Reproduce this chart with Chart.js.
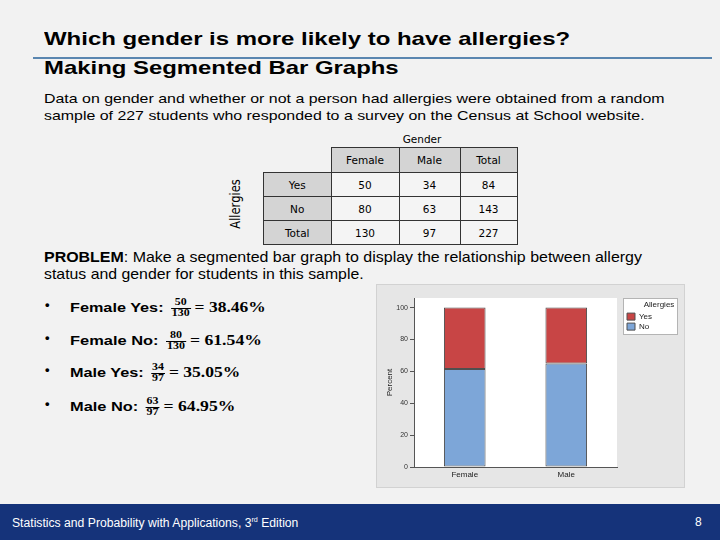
<!DOCTYPE html>
<html><head><meta charset="utf-8">
<script src="https://cdn.jsdelivr.net/npm/chart.js@4.4.1/dist/chart.umd.min.js"></script>
<style>
html,body{margin:0;padding:0;}
body{width:720px;height:540px;position:relative;overflow:hidden;background:#f2f2f2;font-family:"Liberation Sans",Arial,sans-serif;color:#000;}
.t{position:absolute;white-space:nowrap;line-height:1;transform-origin:0 0;}
.b{font-weight:bold;}
.rule{position:absolute;left:33px;top:57px;width:679px;height:2px;background:#5a86b0;}
.frac{display:inline-block;vertical-align:middle;text-align:center;font:bold 9.5px "Liberation Serif",serif;line-height:1.05;margin:0 3px 0 2px;}
.frac span{display:block;padding:0 1px;}
.frac span.n{border-bottom:1px solid #000;}
.m{font-family:"Liberation Serif",serif;font-weight:bold;}
#tbl{position:absolute;left:263px;top:147px;border-collapse:collapse;font-family:"DejaVu Sans",sans-serif;font-size:10.5px;}
#tbl td,#tbl th{border:1.5px solid #333;text-align:center;padding:0;font-weight:normal;}
#tbl th{background:#d4d4d4;}
#tbl td{background:#f4f4f4;}
#tbl td.e{border:none;background:transparent;}
.footer{position:absolute;left:0;top:504px;width:720px;height:36px;background:#15337a;}
#chartWrap{position:absolute;left:376px;top:284px;width:309px;height:204px;}
</style>
</head><body>
<div class="t b" data-x="44" data-b="45.5" data-fs="18.5" data-w="526">Which gender is more likely to have allergies?</div>
<div class="rule"></div>
<div class="t b" data-x="44" data-b="75" data-fs="18.5" data-w="354">Making Segmented Bar Graphs</div>
<div class="t" data-x="44" data-b="103.3" data-fs="13" data-w="621">Data on gender and whether or not a person had allergies were obtained from a random</div>
<div class="t" data-x="44" data-b="120.5" data-fs="13" data-w="601">sample of 227 students who responded to a survey on the Census at School website.</div>

<div class="t" data-x="422" data-b="142.5" data-fs="10.5" data-c="1" style="font-family:'DejaVu Sans',sans-serif;">Gender</div>
<div id="allergLbl" class="t" style="font-family:'DejaVu Sans',sans-serif;font-size:11.5px;left:236px;top:204px;transform:translate(-50%,-50%) scaleX(1.25) rotate(-90deg);transform-origin:50% 50%;">Allergies</div>
<table id="tbl"></table>

<div class="t" data-x="44" data-b="261.5" data-fs="15" data-w="598"><span class="b">PROBLEM</span>: Make a segmented bar graph to display the relationship between allergy</div>
<div class="t" data-x="44" data-b="278.5" data-fs="15" data-w="320">status and gender for students in this sample.</div>

<div id="bullets"></div>

<div class="footer"></div>
<div class="t" data-x="12" data-b="526.5" data-fs="12" data-w="286" style="color:#fff;">Statistics and Probability with Applications, 3<sup style="font-size:7px;vertical-align:5px;">rd</sup> Edition</div>
<div class="t" data-x="695" data-b="526.5" data-fs="12" style="color:#fff;">8</div>

<div id="chartWrap"><canvas id="c" width="309" height="204"></canvas></div>

<script>
// ---- data ----
const genders = ['Female', 'Male'];
const allergyRows = ['Yes', 'No'];
const yesCounts = [50, 34];
const noCounts = [80, 63];
const totalCounts = [130, 97];
const rowTotals = [84, 143, 227];
const yesPct = [38.46, 35.05];
const noPct = [61.54, 64.95];
const yTicks = [0, 20, 40, 60, 80, 100];
const yesPctText = ['38.46%', '35.05%'];
const noPctText = ['61.54%', '64.95%'];

// ---- table ----
(function(){
  const tbl = document.getElementById('tbl');
  const colW = [67, 67, 60, 56];
  const rowH = [25, 24, 24, 24];
  let html = '<tr style="height:'+rowH[0]+'px"><td class="e" style="width:'+colW[0]+'px"></td>';
  genders.concat(['Total']).forEach((g,i)=>{ html += '<th style="width:'+colW[i+1]+'px">'+g+'</th>'; });
  html += '</tr>';
  const rows = [
    ['Yes', yesCounts[0], yesCounts[1], rowTotals[0]],
    ['No', noCounts[0], noCounts[1], rowTotals[1]],
    ['Total', totalCounts[0], totalCounts[1], rowTotals[2]]
  ];
  rows.forEach((r,ri)=>{
    html += '<tr style="height:'+rowH[ri+1]+'px"><th>'+r[0]+'</th><td>'+r[1]+'</td><td>'+r[2]+'</td><td>'+r[3]+'</td></tr>';
  });
  tbl.innerHTML = html;
})();

// ---- bullets ----
(function(){
  const wrap = document.getElementById('bullets');
  const items = [
    ['Female Yes:', yesCounts[0], totalCounts[0], yesPctText[0], 309, 196],
    ['Female No:', noCounts[0], totalCounts[0], noPctText[0], 342, 192],
    ['Male Yes:', yesCounts[1], totalCounts[1], yesPctText[1], 374, 170],
    ['Male No:', noCounts[1], totalCounts[1], noPctText[1], 408, 165]
  ];
  items.forEach(it=>{
    const dot = document.createElement('div');
    dot.className = 't b'; dot.textContent = '•';
    dot.dataset.x = 45; dot.dataset.b = it[4]; dot.dataset.fs = 13;
    wrap.appendChild(dot);
    const d = document.createElement('div');
    d.className = 't';
    d.dataset.x = 70; d.dataset.b = it[4]; d.dataset.fs = 13; d.dataset.w = it[5];
    d.innerHTML = '<span class="b">'+it[0]+'</span> <span class="frac"><span class="n">'+it[1]+'</span><span>'+it[2]+'</span></span><span class="m" style="font-size:14px">= '+it[3]+'</span>';
    wrap.appendChild(d);
  });
})();

function placeTexts(){
  document.querySelectorAll('.t[data-x]').forEach(el=>{
    const fs = parseFloat(el.dataset.fs);
    el.style.fontSize = fs + 'px';
    el.style.top = (parseFloat(el.dataset.b) - 0.85*fs) + 'px';
    el.style.left = el.dataset.x + 'px';
    let tf = '';
    if (el.dataset.c) tf += 'translateX(-50%) ';
    if (el.dataset.w) {
      const w = el.scrollWidth;
      tf += 'scaleX(' + (parseFloat(el.dataset.w)/w) + ')';
    }
    el.style.transform = tf;
  });
}
placeTexts();
if (document.fonts && document.fonts.ready) document.fonts.ready.then(placeTexts);

// ---- chart ----
const bgPlugin = {
  id: 'bg',
  beforeUpdate(chart){
    const lg = chart.legend;
    if (lg && !lg._patched) {
      const f = lg.fit;
      lg.fit = function(){ f.call(this); this.width = 68; };
      lg._patched = true;
    }
  },
  afterLayout(chart){
    const lg = chart.legend;
    lg.left += 8; lg.right += 8;
  },
  beforeDraw(chart){
    const ctx = chart.ctx, a = chart.chartArea, lg = chart.legend;
    ctx.save();
    ctx.fillStyle = '#e6e6e6';
    ctx.fillRect(0, 0, chart.width, chart.height);
    ctx.strokeStyle = '#d2d2d2';
    ctx.strokeRect(0.5, 0.5, chart.width-1, chart.height-1);
    ctx.fillStyle = '#ffffff';
    ctx.fillRect(a.left, a.top, a.right - a.left, a.bottom - a.top);
    const lx = Math.round(lg.left) - 2, ly = Math.round(lg.top);
    ctx.fillRect(lx, ly, 54, 36);
    ctx.strokeStyle = '#b4b4b4';
    ctx.strokeRect(lx + 0.5, ly + 0.5, 54, 36);
    ctx.restore();
  }
};

new Chart(document.getElementById('c'), {
  type: 'bar',
  data: {
    labels: genders,
    datasets: [
      { label: 'No', data: noPct, backgroundColor: '#7da6d8', borderColor: '#4f4f4f', borderWidth: 1, borderSkipped: false, barPercentage: 0.41, categoryPercentage: 1 },
      { label: 'Yes', data: yesPct, backgroundColor: '#c84545', borderColor: '#4f4f4f', borderWidth: 1, borderSkipped: false, barPercentage: 0.41, categoryPercentage: 1 }
    ]
  },
  options: {
    responsive: false,
    animation: false,
    devicePixelRatio: 1,
    layout: { padding: { left: 0, top: 14, right: 0, bottom: 0 } },
    plugins: {
      legend: {
        position: 'right',
        align: 'start',
        reverse: true,
        title: { display: true, text: 'Allergies', color: '#222', font: { size: 8, family: 'Liberation Sans' }, padding: { top: 3, bottom: 0 } },
        labels: { boxWidth: 8, boxHeight: 7, padding: 2, color: '#222', font: { size: 8, family: 'Liberation Sans' } }
      },
      tooltip: { enabled: false }
    },
    scales: {
      x: {
        stacked: true,
        grid: { display: false, drawTicks: false },
        border: { display: true, color: '#555', width: 1 },
        ticks: { color: '#222', padding: 3, font: { size: 8, family: 'Liberation Sans' } },
        afterFit(s){ s.height = 21; }
      },
      y: {
        stacked: true,
        min: 0, max: 106,
        afterBuildTicks(s){ s.ticks = yTicks.map(v => ({ value: v })); },
        grid: { display: true, drawOnChartArea: false, drawTicks: true, tickLength: 4, color: '#555' },
        border: { display: true, color: '#555', width: 1 },
        ticks: { color: '#333', padding: 2, font: { size: 7, family: 'Liberation Sans' } },
        title: { display: true, text: 'Percent', color: '#222', font: { size: 8, family: 'Liberation Sans' }, padding: { top: 9, bottom: 0 } },
        afterFit(s){ s.width = 38; }
      }
    }
  },
  plugins: [bgPlugin]
});
</script>
</body></html>
